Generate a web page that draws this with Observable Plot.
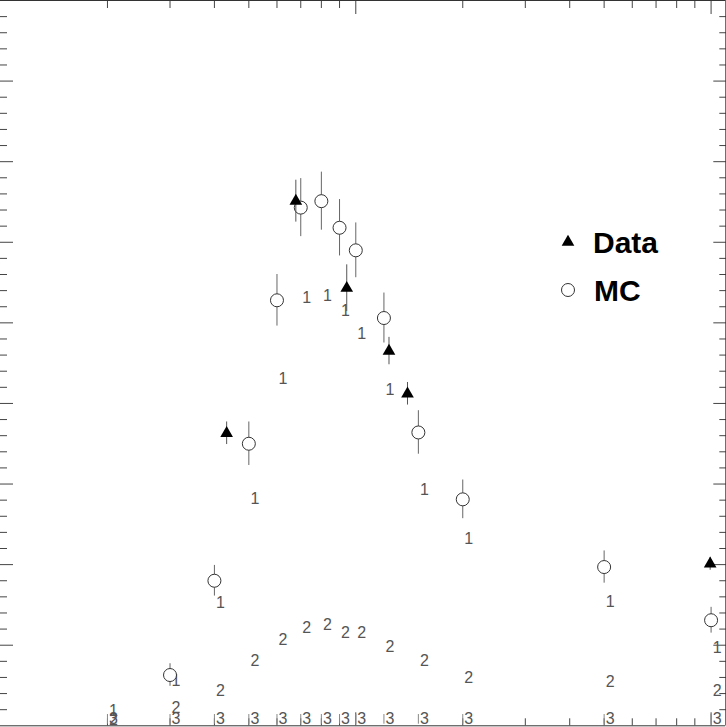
<!DOCTYPE html>
<html>
<head>
<meta charset="utf-8">
<script src="https://cdn.jsdelivr.net/npm/d3@7"></script>
<script src="https://cdn.jsdelivr.net/npm/@observablehq/plot@0.6"></script>
<style>
  html, body { margin: 0; padding: 0; background: #fff; }
  #wrap { position: relative; width: 726px; height: 727px; }
  #legend { position: absolute; left: 0; top: 0; font-family: "Liberation Sans", Arial, sans-serif; font-weight: bold; font-size: 30px; color: #000; }
  .lg { position: absolute; white-space: nowrap; line-height: 1; }
</style>
</head>
<body>
<div id="wrap"></div>
<script>
// MC (open circles)
const mcX   = [3, 4, 5, 6, 7, 8, 9, 10, 12, 15, 20, 50, 100];
const mcY   = [0.63, 1.80, 3.50, 5.28, 6.43, 6.51, 6.18, 5.90, 5.06, 3.64, 2.81, 1.97, 1.31];
const mcErr = [0.14, 0.19, 0.27, 0.32, 0.36, 0.36, 0.35, 0.34, 0.31, 0.27, 0.24, 0.20, 0.16];

// Data (filled triangles)
const dataX   = [4.33, 6.78, 9.43, 12.4, 13.98, 99.4];
const dataY   = [3.63, 6.51, 5.43, 4.65, 4.12, 2.01];
const dataErr = [0.14, 0.26, 0.29, 0.17, 0.14, 0.08];

// Text-marker series "1", "2", "3"
const labX  = [2, 3, 4, 5, 6, 7, 8, 9, 10, 12, 15, 20, 50, 100];
const s1Y   = [0.19, 0.56, 1.52, 2.81, 4.30, 5.31, 5.33, 5.15, 4.86, 4.17, 2.93, 2.32, 1.54, 0.97];
const s2Y   = [0.07, 0.22, 0.43, 0.81, 1.07, 1.21, 1.25, 1.15, 1.15, 0.98, 0.81, 0.59, 0.54, 0.43];
const s3Y   = [0.08, 0.08, 0.08, 0.08, 0.08, 0.08, 0.08, 0.08, 0.08, 0.08, 0.08, 0.08, 0.08, 0.08];
const s3Err = [0.06, 0.06, 0.06, 0.06, 0.06, 0.06, 0.06, 0.06, 0.06, 0.06, 0.06, 0.06, 0.06, 0.06];

// Axis tick values (no labels in the reference)
const xDomain = [1, 110];
const yDomain = [0, 9];
const xMajorTicks = [10, 100];
const xMinorTicks = [2, 3, 4, 5, 6, 7, 8, 9, 20, 30, 40, 50, 60, 70, 80, 90];
const yMajorTicks = [1, 2, 3, 4, 5, 6, 7, 8];
const yMinorTicks = d3.range(1, 45).map(i => i * 0.2).filter(v => Math.abs(v - Math.round(v)) > 1e-6);

const legendItems = ["Data", "MC"];

const mc = mcX.map((x, i) => ({x, y: mcY[i], e: mcErr[i]}));
const dat = dataX.map((x, i) => ({x, y: dataY[i], e: dataErr[i]}));
const s1 = labX.map((x, i) => ({x, y: s1Y[i]}));
const s2 = labX.map((x, i) => ({x, y: s2Y[i]}));
const s3 = labX.map((x, i) => ({x, y: s3Y[i], e: s3Err[i]}));

const tickColor = "#444";
const blank = () => "";
const txt = {fontFamily: "Liberation Sans, Arial, sans-serif", fontSize: 16, fill: "#555", dx: 6, lineAnchor: "middle"};

const chart = Plot.plot({
  width: 726,
  height: 727,
  marginLeft: 0,
  marginRight: 0.7,
  marginTop: 0,
  marginBottom: 1.7,
  style: {background: "white", overflow: "visible"},
  x: {type: "log", domain: xDomain, axis: null},
  y: {domain: yDomain, axis: null},
  marks: [
    // ticks (inward)
    Plot.axisY({anchor: "left", ticks: yMajorTicks, tickSize: 13, dx: 13, tickFormat: blank, label: null, stroke: tickColor}),
    Plot.axisY({anchor: "left", ticks: yMinorTicks, tickSize: 7, dx: 7, tickFormat: blank, label: null, stroke: tickColor}),
    Plot.axisY({anchor: "right", ticks: yMajorTicks, tickSize: 13, dx: -13, tickFormat: blank, label: null, stroke: tickColor}),
    Plot.axisY({anchor: "right", ticks: yMinorTicks, tickSize: 7, dx: -7, tickFormat: blank, label: null, stroke: tickColor}),
    Plot.axisX({anchor: "bottom", ticks: xMajorTicks, tickSize: 13, dy: -13, tickFormat: blank, label: null, stroke: tickColor}),
    Plot.axisX({anchor: "bottom", ticks: xMinorTicks, tickSize: 7, dy: -7, tickFormat: blank, label: null, stroke: tickColor}),
    Plot.axisX({anchor: "top", ticks: xMajorTicks, tickSize: 13, dy: 13, tickFormat: blank, label: null, stroke: tickColor}),
    Plot.axisX({anchor: "top", ticks: xMinorTicks, tickSize: 7, dy: 7, tickFormat: blank, label: null, stroke: tickColor}),

    // text-marker series
    Plot.ruleX(s3, {x: "x", y1: d => d.y - d.e, y2: d => d.y + d.e, stroke: "#888"}),
    Plot.text(s3, {x: "x", y: "y", text: () => "3", ...txt}),
    Plot.text(s2, {x: "x", y: "y", text: () => "2", ...txt}),
    Plot.text(s1, {x: "x", y: "y", text: () => "1", ...txt}),

    // MC
    Plot.ruleX(mc, {x: "x", y1: d => d.y - d.e, y2: d => d.y + d.e, stroke: "#666"}),
    Plot.dot(mc, {x: "x", y: "y", r: 6.5, fill: "white", stroke: "#333", strokeWidth: 1}),

    // Data
    Plot.ruleX(dat, {x: "x", y1: d => d.y - d.e, y2: d => d.y + d.e, stroke: "#555"}),
    Plot.dot(dat, {x: "x", y: "y", symbol: "triangle", r: 4.7, fill: "black", stroke: "none"}),

    // frame (top, right, bottom)
    Plot.ruleY([yDomain[1]], {stroke: "#333"}),
    Plot.ruleY([yDomain[0]], {stroke: "#333"}),
    Plot.ruleX([xDomain[1]], {stroke: "#333"})
  ]
});

const wrap = document.getElementById("wrap");
wrap.appendChild(chart);

// Legend overlay
const legend = document.createElement("div");
legend.id = "legend";
legend.innerHTML = `
  <svg class="lg" style="left:560px;top:234px" width="16" height="16" viewBox="-8 -8 16 16">
    <path d="${d3.symbol(d3.symbolTriangle, Math.PI * 4.7 * 4.7)()}" fill="black"/>
  </svg>
  <div class="lg" style="left:593px;top:228px">${legendItems[0]}</div>
  <svg class="lg" style="left:559px;top:281px" width="18" height="18" viewBox="-9 -9 18 18">
    <circle r="6.5" fill="white" stroke="#333"/>
  </svg>
  <div class="lg" style="left:594px;top:276px">${legendItems[1]}</div>
`;
wrap.appendChild(legend);
</script>
</body>
</html>
